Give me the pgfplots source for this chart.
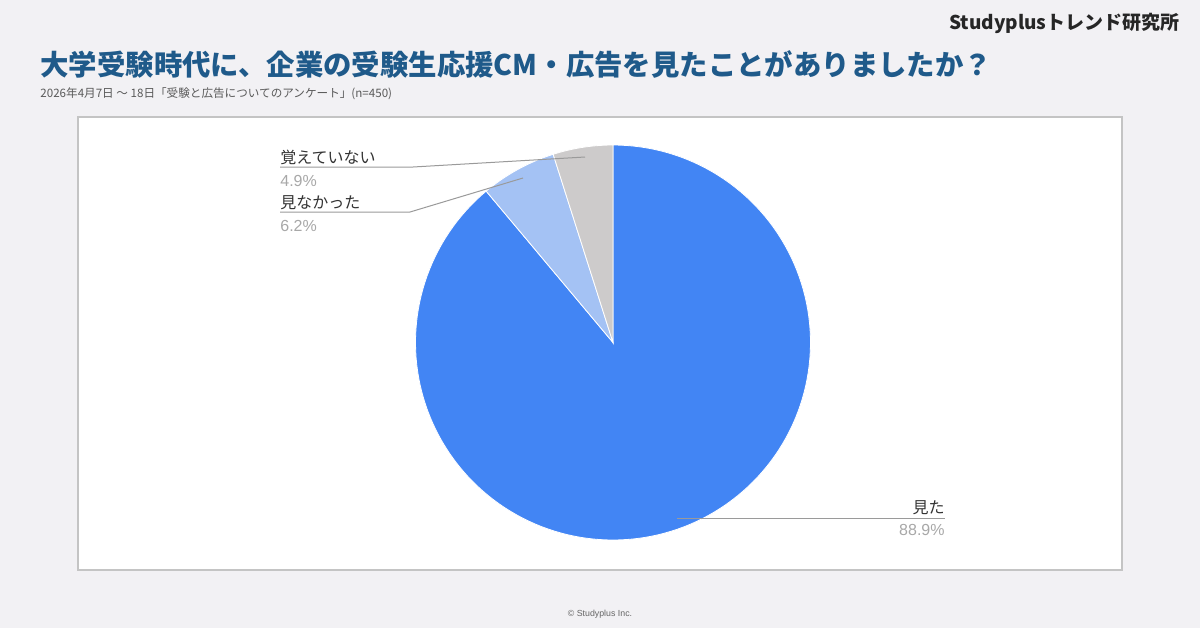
\documentclass[border=0pt]{standalone}
\usepackage{pgfplots}
\pgfplotsset{compat=1.18}
\usepackage{pgfplotstable}
\usepackage{fontspec}
\setmainfont{Noto Sans CJK JP}
\newfontfamily\latin{Liberation Sans}
\definecolor{bg}{HTML}{F2F1F4}
\definecolor{frame}{HTML}{C4C4C4}
\definecolor{titleblue}{HTML}{1F5A8A}
\definecolor{pieblue}{HTML}{4285F4}
\definecolor{pielight}{HTML}{A4C2F4}
\definecolor{piegray}{HTML}{CDCBCB}
\definecolor{labeldark}{HTML}{333333}
\definecolor{pctgray}{HTML}{A8A8A8}
\definecolor{leader}{HTML}{9A9A9A}

\pgfplotstableread{
idx value
0 88.9
1 6.2
2 4.9
}\piedata

\begin{document}
\begin{tikzpicture}
\pgfplotstablegetelem{0}{value}\of\piedata \let\va\pgfplotsretval
\pgfplotstablegetelem{1}{value}\of\piedata \let\vb\pgfplotsretval
\pgfplotstablegetelem{2}{value}\of\piedata \let\vc\pgfplotsretval
\pgfmathsetmacro\aA{-90}
\pgfmathsetmacro\aB{\aA+3.6*\va}
\pgfmathsetmacro\aC{\aB+3.6*\vb}
\pgfmathsetmacro\aD{\aC+3.6*\vc}
\begin{axis}[
  at={(0,0)}, anchor=south west,
  width=600pt, height=314pt, scale only axis,
  xmin=0, xmax=1200, ymin=0, ymax=628, y dir=reverse,
  hide axis, clip=false,
  /pgf/number format/assume math mode=true,
]
% background and frame
\fill[bg] (axis cs:0,0) rectangle (axis cs:1200,628);
\filldraw[fill=white, draw=frame, line width=0.6pt] (axis cs:78,117) rectangle (axis cs:1122,570);

% pie slices
\addplot[fill=pieblue, draw=white, line width=0.4pt, domain=\aA:\aB, samples=160, variable=\t]
  ({613+197.5*cos(\t)}, {342.5+197.5*sin(\t)}) -- (axis cs:613,342.5) -- cycle;
\addplot[fill=pielight, draw=white, line width=0.4pt, domain=\aB:\aC, samples=30, variable=\t]
  ({613+197.5*cos(\t)}, {342.5+197.5*sin(\t)}) -- (axis cs:613,342.5) -- cycle;
\addplot[fill=piegray, draw=white, line width=0.4pt, domain=\aC:\aD, samples=30, variable=\t]
  ({613+197.5*cos(\t)}, {342.5+197.5*sin(\t)}) -- (axis cs:613,342.5) -- cycle;

% leader lines
\draw[leader, line width=0.5pt] (axis cs:280,167) -- (axis cs:413,167) -- (axis cs:585,157);
\draw[leader, line width=0.5pt] (axis cs:280,212) -- (axis cs:410,212) -- (axis cs:523,178);
\draw[leader, line width=0.5pt] (axis cs:677,518) -- (axis cs:945,518);

% labels
\node[anchor=base west, inner sep=0pt, text=labeldark, font=\fontsize{8}{10}\selectfont] at (axis cs:280,163) {覚えていない};
\node[anchor=base west, inner sep=0pt, text=pctgray, font=\fontsize{8}{10}\selectfont\latin] at (axis cs:280,186) {\pgfmathprintnumber[fixed,precision=1,fixed zerofill]{\vc}\%};
\node[anchor=base west, inner sep=0pt, text=labeldark, font=\fontsize{8}{10}\selectfont] at (axis cs:280,208) {見なかった};
\node[anchor=base west, inner sep=0pt, text=pctgray, font=\fontsize{8}{10}\selectfont\latin] at (axis cs:280,231) {\pgfmathprintnumber[fixed,precision=1,fixed zerofill]{\vb}\%};
\node[anchor=base east, inner sep=0pt, text=labeldark, font=\fontsize{8}{10}\selectfont] at (axis cs:945,513) {見た};
\node[anchor=base east, inner sep=0pt, text=pctgray, font=\fontsize{8}{10}\selectfont\latin] at (axis cs:945,535) {\pgfmathprintnumber[fixed,precision=1,fixed zerofill]{\va}\%};

% titles
\node[anchor=base east, inner sep=0pt, text=black!85, font=\fontsize{9.5}{11}\selectfont\bfseries] at (axis cs:1180,29) {Studyplusトレンド研究所};
\node[anchor=base west, inner sep=0pt, text=titleblue, font=\fontsize{14.2}{16}\selectfont\bfseries] at (axis cs:40,75) {大学受験時代に、企業の受験生応援CM・広告を見たことがありましたか？};
\node[anchor=base west, inner sep=0pt, text=black!65, font=\fontsize{5.8}{7}\selectfont] at (axis cs:40,97) {2026年4月7日 〜 18日「受験と広告についてのアンケート」(n=450)};
\node[anchor=base, inner sep=0pt, text=black!60, font=\fontsize{4.4}{5}\selectfont\latin] at (axis cs:600,616) {© Studyplus Inc.};
\end{axis}
\pgfresetboundingbox
\useasboundingbox (0,0) rectangle (600pt,314pt);
\end{tikzpicture}
\end{document}
